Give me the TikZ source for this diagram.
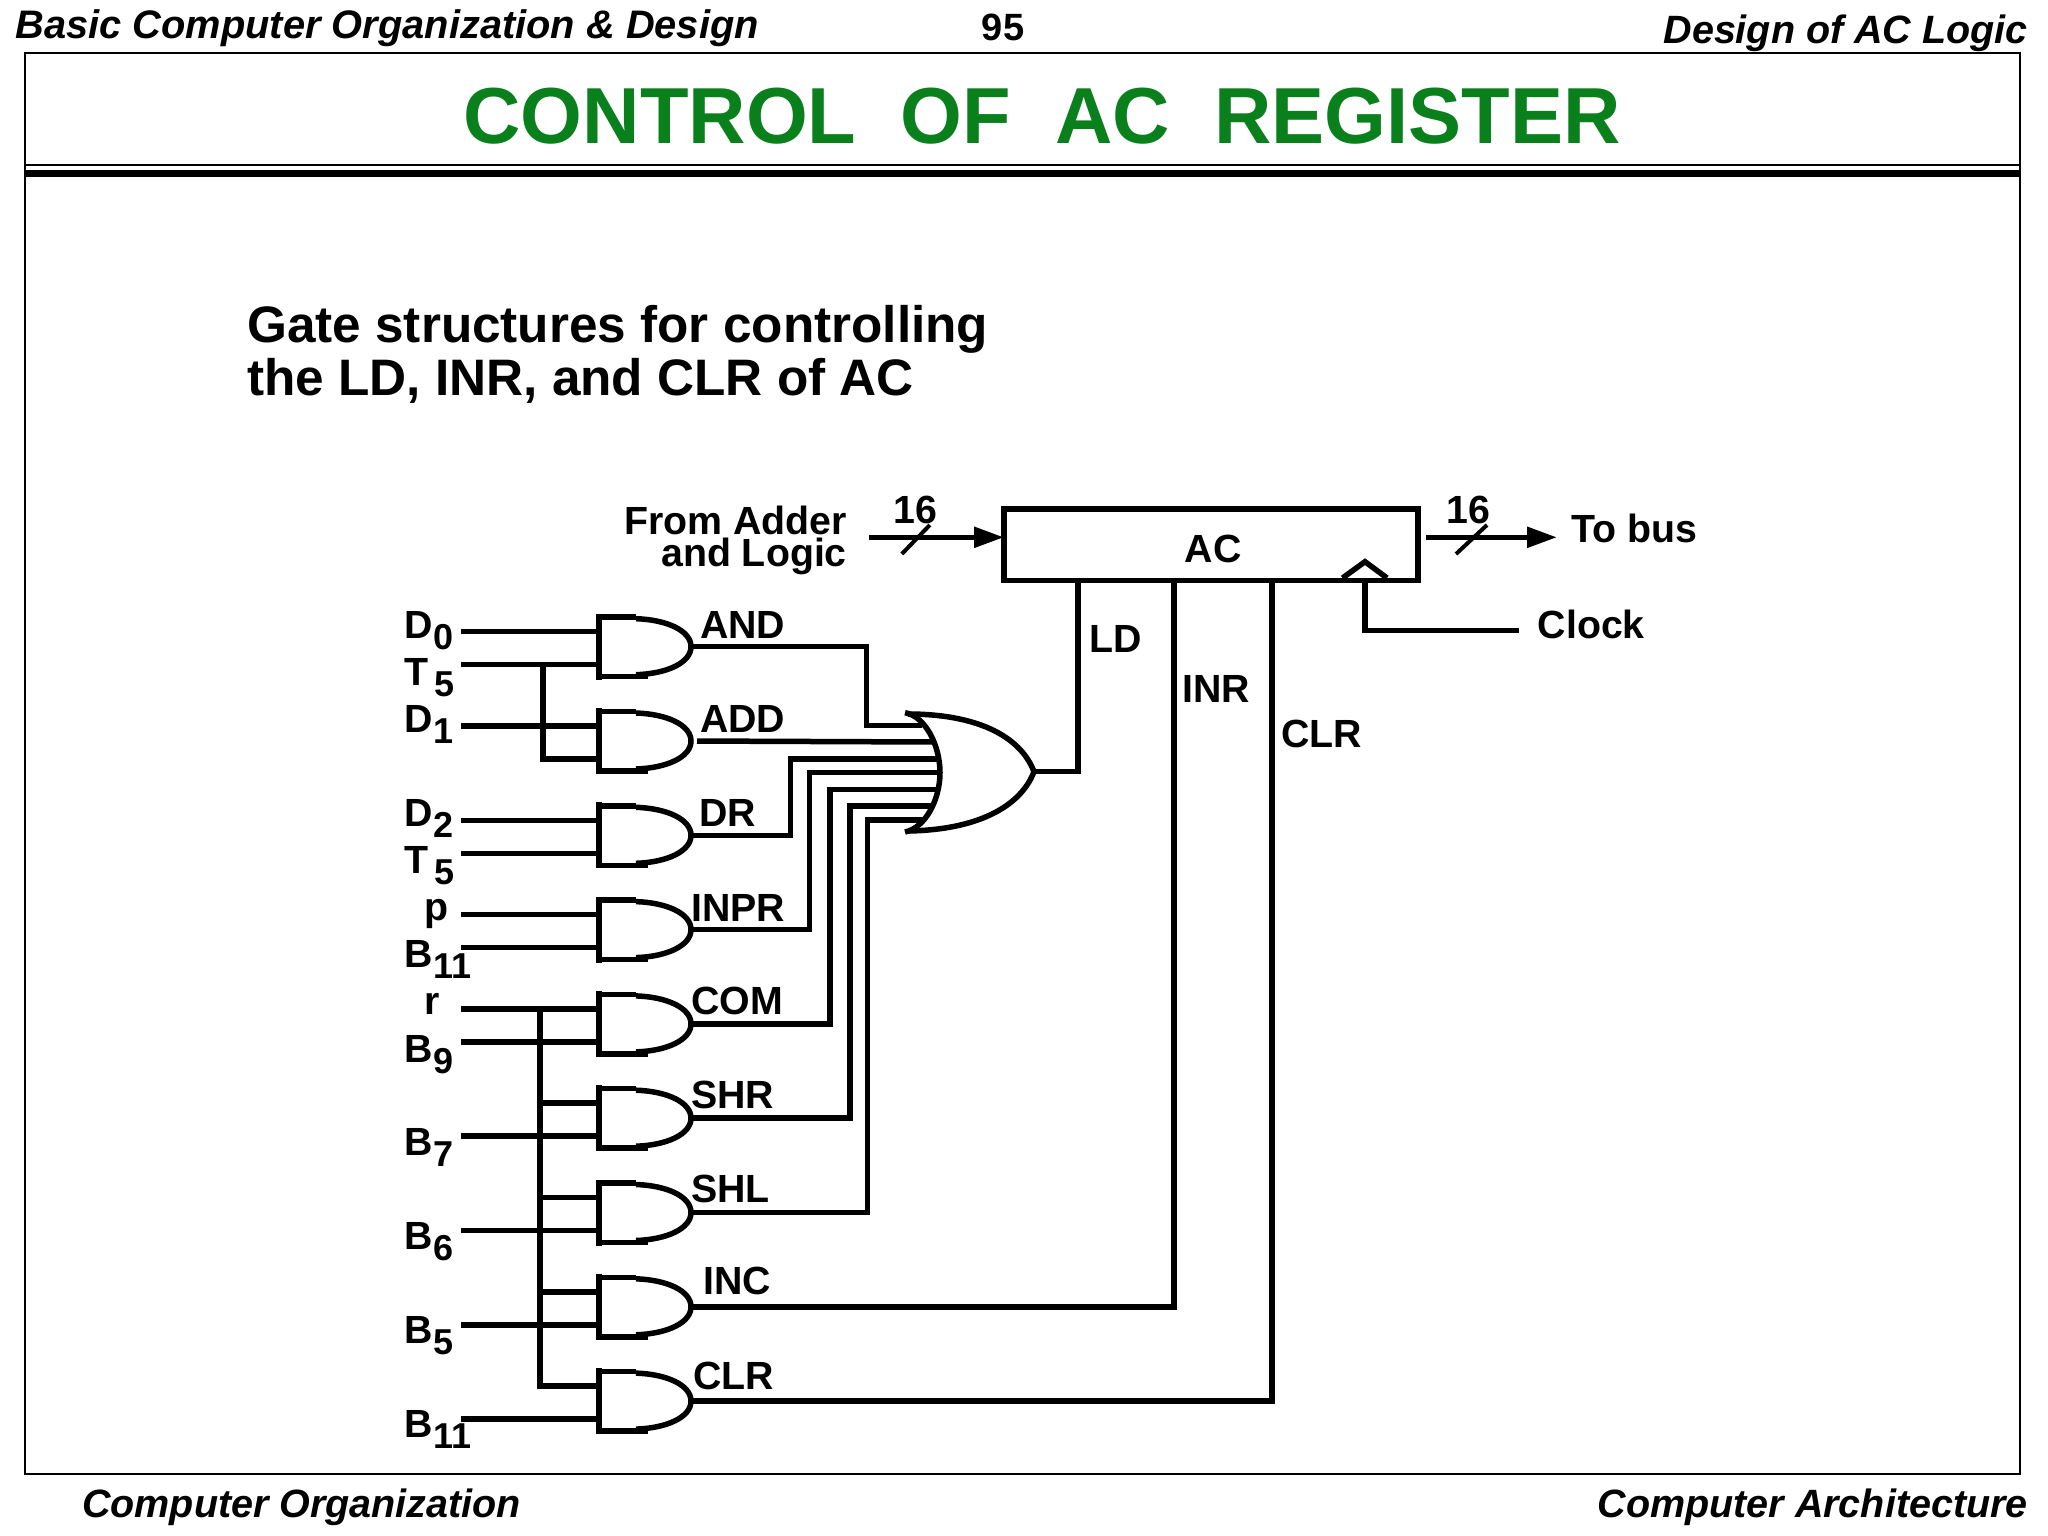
\documentclass[tikz,border=0pt]{standalone}
\usepackage{fontspec}
\setmainfont{Liberation Sans}
\usetikzlibrary{arrows.meta}
\definecolor{titlegreen}{RGB}{10,128,28}
\newcommand{\subs}[1]{\raisebox{-11pt}{\fontsize{36}{36}\selectfont #1}}
\tikzset{
  wire/.style={line width=5.5pt, line join=miter},
  tick/.style={line width=4pt},
  lbl/.style={font=\bfseries\fontsize{39.3}{32}\selectfont, inner sep=0pt, anchor=base west},
  head/.style={font=\bfseries\itshape\fontsize{39.5}{40}\selectfont, inner sep=0pt},
  andgate/.pic={
    \draw[wire] (0,-33) -- (0,33);
    \draw[wire] (3,-29.5) -- (37,-29.5);
    \draw[wire] (37,-28) .. controls (68,-27) and (92,-16) .. (92,0) .. controls (92,16) and (68,27) .. (37,28);
    \draw[wire] (0,30) -- (49,30);
    \coordinate (-a) at (0,-15);
    \coordinate (-b) at (0,18);
    \coordinate (-y) at (91,0);
  }
}
\begin{document}
\begin{tikzpicture}[x=1pt,y=-1pt]
\useasboundingbox (0,0) rectangle (2048,1536);

% frame
\draw[line width=2pt] (25,53) rectangle (2020,1474);
\draw[line width=2pt] (25,165) -- (2020,165);
\draw[line width=7.5pt] (25,173.5) -- (2020,173.5);

% page texts
\node[head, anchor=base west, font=\bfseries\itshape\fontsize{39.8}{40}\selectfont] (book) at (15.5,39) {Basic Computer Organization \& Design};
\node[head, anchor=base, font=\bfseries\fontsize{38}{38}\selectfont] (page) at (1003,41) {95};
\node[head, anchor=base east] (part) at (2028,44) {Design of AC Logic};
\node[head, anchor=base west] (foot1) at (82,1517) {Computer Organization};
\node[head, anchor=base east] (foot2) at (2028,1517) {Computer Architecture};
\node[inner sep=0pt, anchor=base, text=titlegreen, font=\bfseries\fontsize{79.5}{80}\selectfont] (title) at (1042,143.5) {CONTROL\ \ OF\ \ AC\ \ REGISTER};
\node[inner sep=0pt, anchor=base west, align=left, font=\bfseries\fontsize{51.3}{53}\selectfont] (gates) at (247,395) {Gate structures for controlling\\the LD, INR, and CLR of AC};

% gates
\pic (g1) at (599,646.7) {andgate};
\pic (g2) at (599,741) {andgate};
\pic (g3) at (599,835.3) {andgate};
\pic (g4) at (599,929.6) {andgate};
\pic (g5) at (599,1023.9) {andgate};
\pic (g6) at (599,1118.2) {andgate};
\pic (g7) at (599,1212.5) {andgate};
\pic (g8) at (599,1306.8) {andgate};
\pic (g9) at (599,1401.1) {andgate};

% input labels
\node[lbl] (D0) at (404,638) {D\kern1pt\subs{0}};
\node[lbl] (T5a) at (404,685) {T\kern6pt\subs{5}};
\node[lbl] (D1) at (404,732) {D\kern1pt\subs{1}};
\node[lbl] (D2) at (404,826) {D\kern1pt\subs{2}};
\node[lbl] (T5b) at (404,873) {T\kern6pt\subs{5}};
\node[lbl] (p) at (424,920) {p};
\node[lbl] (B11a) at (404,967) {B\kern1pt\subs{11}};
\node[lbl] (r) at (424,1014.5) {r};
\node[lbl] (B9) at (404,1062) {B\kern1pt\subs{9}};
\node[lbl] (B7) at (404,1155) {B\kern1pt\subs{7}};
\node[lbl] (B6) at (404,1249) {B\kern1pt\subs{6}};
\node[lbl] (B5) at (404,1343) {B\kern1pt\subs{5}};
\node[lbl] (B11b) at (404,1437) {B\kern1pt\subs{11}};

% input wires
\coordinate (rail) at (461,0);
\coordinate (tap1) at (543,0);
\coordinate (tap2) at (540,0);
\draw[wire] (rail |- g1-a) -- (g1-a);
\draw[wire] (rail |- g1-b) -- (g1-b);
\draw[wire] (rail |- g2-a) -- (g2-a);
\draw[wire] (rail |- g3-a) -- (g3-a);
\draw[wire] (rail |- g3-b) -- (g3-b);
\draw[wire] (rail |- g4-a) -- (g4-a);
\draw[wire] (rail |- g4-b) -- (g4-b);
\draw[wire] (rail |- g5-a) -- (g5-a);
\draw[wire] (rail |- g5-b) -- (g5-b);
\draw[wire] (rail |- g6-b) -- (g6-b);
\draw[wire] (rail |- g7-b) -- (g7-b);
\draw[wire] (rail |- g8-b) -- (g8-b);
\draw[wire] (rail |- g9-b) -- (g9-b);
\draw[wire] (tap1 |- g1-b) -- (tap1 |- g2-b) -- (g2-b);
\draw[wire] (tap2 |- g5-a) -- (tap2 |- g9-a) -- (g9-a);
\draw[wire] (tap2 |- g6-a) -- (g6-a);
\draw[wire] (tap2 |- g7-a) -- (g7-a);
\draw[wire] (tap2 |- g8-a) -- (g8-a);

% output labels
\node[lbl] (AND) at (700,638) {AND};
\node[lbl] (ADD) at (700,732) {ADD};
\node[lbl] (DR) at (699,826) {DR};
\node[lbl] (INPR) at (691,921) {INPR};
\node[lbl] (COM) at (691,1014.5) {COM};
\node[lbl] (SHR) at (691,1108) {SHR};
\node[lbl] (SHL) at (691,1202) {SHL};
\node[lbl] (INC) at (703,1294.5) {INC};
\node[lbl] (CLRg) at (693,1389) {CLR};

% or gate
\coordinate (or1) at (922,725.7);
\coordinate (or2) at (934,742);
\coordinate (or3) at (938,759);
\coordinate (or4) at (940,772.7);
\coordinate (or5) at (938,789.3);
\coordinate (or6) at (934,806);
\coordinate (or7) at (925,820);
\coordinate (orY) at (1034,771.7);
\draw[wire] (905,712.7) .. controls (925,716) and (940,745) .. (940,772.7) .. controls (940,800) and (925,828) .. (905,832);
\draw[wire] (908,714) .. controls (975,714) and (1020,735) .. (orY) .. controls (1020,808) and (975,830) .. (908,831);

% or inputs
\coordinate (bend1) at (866.6,725.7);
\coordinate (bend3) at (790.7,759);
\coordinate (bend4) at (809.5,772.7);
\coordinate (bend5) at (830,789.3);
\coordinate (bend6) at (850,806);
\coordinate (bend7) at (867.5,820);
\draw[wire] (g1-y) -| (bend1) -- (or1);
\draw[wire, shorten <=7pt] (g2-y) -- (or2);
\draw[wire] (g3-y) -| (bend3) -- (or3);
\draw[wire] (g4-y) -| (bend4) -- (or4);
\draw[wire] (g5-y) -| (bend5) -- (or5);
\draw[wire] (g6-y) -| (bend6) -- (or6);
\draw[wire] (g7-y) -| (bend7) -- (or7);

% AC register
\node[draw, line width=5.5pt, inner sep=0pt, outer sep=0pt, minimum width=414pt, minimum height=71.5pt, text height=35pt, text depth=0pt, font=\bfseries\fontsize{39.3}{39}\selectfont] (AC) at (1211,544.5) {\kern4pt AC};
\coordinate (load) at (1078,0);
\coordinate (incr) at (1174,0);
\coordinate (clear) at (1272,0);
\coordinate (clockin) at (1365,580);
\coordinate (clocktap) at (1518.8,630.7);
\draw[wire] (orY) -| (load |- AC.south);
\draw[wire] (g8-y) -| (incr |- AC.south);
\draw[wire] (g9-y) -| (clear |- AC.south);
\draw[wire] (clockin) |- (clocktap);
\draw[wire] (1342.5,578) -- (1365,561.7) -- (1387,578);
\node[lbl] (LD) at (1089,652) {LD};
\node[lbl] (INR) at (1182,702) {INR};
\node[lbl] (CLR) at (1281,747) {CLR};
\node[lbl] (Clock) at (1537.5,638.5) {Clock};

% bus arrows
\coordinate (busin) at (869,537.3);
\coordinate (busout) at (1425.8,537.3);
\coordinate (busend) at (1557,537.3);
\draw[wire, -{Triangle[length=30pt,width=20pt]}] (busin) -- (AC.west |- busin);
\draw[wire, -{Triangle[length=30pt,width=20pt]}] (busout) -- (busend);
\draw[tick] (915.8,539.5) ++(-14,14.5) -- ++(28,-29);
\draw[tick] (1471,539.5) ++(-15,14.5) -- ++(31,-29);
\node[lbl, anchor=base] (w1) at (915,523) {16};
\node[lbl, anchor=base] (w2) at (1468,523) {16};
\node[lbl] (bus) at (1571.5,542) {To bus};
\node[lbl, anchor=base east, align=right] (adder) at (847,566) {From Adder\\and Logic};

\end{tikzpicture}
\end{document}
